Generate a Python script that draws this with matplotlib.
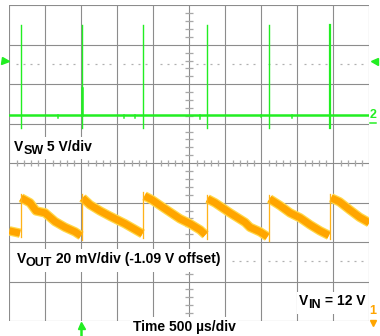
import matplotlib
matplotlib.use('Agg')
import matplotlib.pyplot as plt
from   matplotlib.patches    import Rectangle
from   matplotlib.transforms import Bbox, IdentityTransform

## ********************************************************************************************* ##
## Scope settings
## ********************************************************************************************* ##
W, H           = 380, 336
TDIV           = 500.0          # us per division
NXDIV, NYDIV   = 10, 8
SW_VDIV        = 5.0            # ch2, V per division
SW_POS         = 1.22           # ch2 ground, divisions above centre
OUT_VDIV       = 20.0           # ch1, mV per division
FONT           = 'Liberation Sans'
GREEN          = '#22ee22'
ORANGE         = '#ffa500'
GRIDC          = '#8c8c8c'

## Switch node (ch2), volts
## =========================================== ##
sw_times       = [160, 1005, 1860, 2740, 3600, 4460]
sw_peak        = [11.4, 11.4, 11.4, 11.4, 11.4, 11.4]
sw_dip         = [-1.7, -1.7, -1.7, -1.7, -1.7, -1.7]
sw_width       = [1.0, 1.0, 1.0, 1.0, 1.0, 1.6]
ring_time      = 1005
ring_peak      = 3.4
glitch_times   = [680, 1595, 1740, 2650, 3495, 3930]
glitch_v       = [-0.4, -0.4, -0.4, -0.5, -0.3, -0.4]

## Output ripple (ch1), mV from the -1.09 V offset
## =========================================== ##
out_t          = [[0, 149],
                  [163, 288, 371, 496, 635, 774, 913, 996],
                  [1017, 1121, 1260, 1399, 1607, 1850],
                  [1878, 1982, 2162, 2371, 2510, 2649, 2725],
                  [2753, 2857, 3065, 3274, 3343, 3482, 3586],
                  [3614, 3760, 3899, 4038, 4176, 4315, 4440],
                  [4469, 4587, 4726, 4865, 5000]]
out_mv         = [[-34.3, -35.5],
                  [-17.6, -20.1, -24.2, -25.2, -29.6, -32.5, -34.8, -36.8],
                  [-17.6, -21.1, -24.2, -26.9, -30.7, -35.8],
                  [-16.6, -18.6, -23.1, -28.2, -30.7, -33.8, -36.3],
                  [-18.1, -20.1, -25.2, -30.0, -32.5, -34.8, -37.3],
                  [-18.1, -21.5, -25.2, -27.7, -31.2, -34.3, -36.6],
                  [-17.6, -19.6, -23.6, -27.4, -30.2]]

trig_levels    = [2.5, -2.49]   # dotted cursor rows, divisions
marker_time    = 1000           # trigger position arrow

def sw_div(v):
    return v / SW_VDIV + SW_POS

def out_div(mv):
    return mv / OUT_VDIV

def pt(px):
    return px * 72.0 / 100.0

## ********************************************************************************************* ##
## Graticule
## ********************************************************************************************* ##
fig            = plt.figure(figsize=(W / 100, H / 100), dpi=100)
fig.patch.set_facecolor('white')
ax             = fig.add_axes([9.3 / W, 1 - 321.0 / H, 360.0 / W, 315.7 / H])
xmax           = NXDIV * TDIV
ax.set_xlim(0, xmax)
ax.set_ylim(-NYDIV / 2, NYDIV / 2)
ax.axis('off')

for i in range(NXDIV + 1):
    ax.axvline(i * TDIV, color=GRIDC, lw=0.8, zorder=1)
for j in range(NYDIV + 1):
    ax.axhline(j - NYDIV / 2, color=GRIDC, lw=0.8, zorder=1)

# minor ticks along the centre lines
ty             = [k * 0.2 - NYDIV / 2 for k in range(NYDIV * 5 + 1) if k % 5]
tx             = [k * TDIV / 5 for k in range(NXDIV * 5 + 1) if k % 5]
ax.plot([xmax / 2] * len(ty), ty, ls='none', marker='_', ms=pt(8), mew=pt(1.3), color='#a8a8a8', zorder=1)
ax.plot(tx, [0] * len(tx), ls='none', marker='|', ms=pt(6), mew=pt(1.3), color='#a8a8a8', zorder=1)

# dotted cursor rows
for lvl in trig_levels:
    ax.plot(tx, [lvl] * len(tx), ls='none', marker='_', ms=pt(2.5), mew=pt(1.2), color='#b0b0b0', zorder=1)

## ********************************************************************************************* ##
## Traces
## ********************************************************************************************* ##
# ch1 - output ripple band
for t, mv in zip(out_t, out_mv):
    y = [out_div(v) for v in mv]
    ax.plot(t, y, color='#ffd84a', lw=pt(9.5), solid_capstyle='butt', zorder=2)
    ax.plot(t, y, color=ORANGE, lw=pt(7), solid_capstyle='butt', zorder=3)
for i, ts in enumerate(sw_times):
    ax.plot([ts, ts], [out_div(out_mv[i][-1]) - 0.1, out_div(out_mv[i + 1][0]) + 0.1],
            color='#ffb31a', lw=pt(1.3), zorder=3)

# ch2 - switch node
ax.plot([0, xmax], [sw_div(0), sw_div(0)], color=GREEN, lw=pt(2.5), zorder=4)
for ts, vp, vd, lw in zip(sw_times, sw_peak, sw_dip, sw_width):
    ax.plot([ts, ts], [sw_div(vd), sw_div(vp)], color=GREEN, lw=lw, zorder=4)
ax.plot([ring_time, ring_time], [sw_div(0), sw_div(ring_peak)], color=GREEN, lw=pt(2.5), zorder=4)
for tg, vg in zip(glitch_times, glitch_v):
    ax.plot([tg, tg], [sw_div(0), sw_div(vg)], color=GREEN, lw=pt(1.5), zorder=4)

## ********************************************************************************************* ##
## Channel markers
## ********************************************************************************************* ##
ax.plot([-55], [2.6], marker='>', ms=pt(7), color=GREEN, clip_on=False, zorder=6)
ax.plot([xmax + 60], [2.6], marker='<', ms=pt(7), color=GREEN, clip_on=False, zorder=6)
ax.text(xmax + 52, sw_div(0), '2', color=GREEN, fontsize=9, fontweight='bold', family=FONT,
        ha='center', va='center', clip_on=False, zorder=6)
ax.plot([xmax + 15, xmax + 95], [1.02, 1.02], color=GREEN, lw=pt(1.5), clip_on=False, zorder=6)
ax.text(xmax + 52, -3.74, '1', color=ORANGE, fontsize=9, fontweight='bold', family=FONT,
        ha='center', va='center', clip_on=False, zorder=6)
ax.plot([xmax + 45], [-4.05], marker='v', ms=pt(6), color=ORANGE, clip_on=False, zorder=6)
ax.plot([marker_time, marker_time], [-4.12, -4.4], color=GREEN, lw=pt(2.5), clip_on=False, zorder=6)
ax.plot([marker_time], [-4.1], marker='^', ms=pt(7), color=GREEN, clip_on=False, zorder=6)

## ********************************************************************************************* ##
## Labels (white boxed, sub-scripted)
## ********************************************************************************************* ##
renderer       = fig.canvas.get_renderer()

def rich_label(x, y, parts, pad=2.5):
    boxes      = []
    for s, size, drop in parts:
        txt    = fig.text(x / W, 1 - (y + drop) / H, s, fontsize=size, fontweight='bold',
                          family=FONT, color='black', ha='left', va='baseline', zorder=8)
        bb     = txt.get_window_extent(renderer)
        boxes.append(bb)
        x      = bb.x1
    bb         = Bbox.union(boxes)
    rect       = Rectangle((bb.x0 - pad, bb.y0 - pad), bb.width + 2 * pad, bb.height + 2 * pad,
                           transform=IdentityTransform(), facecolor='white', edgecolor='none', zorder=7)
    fig.add_artist(rect)

rich_label(14.0, 150.5, [('V', 10, 0), ('SW', 9, 3.5), (' 5 V/div', 10, 0)])
rich_label(16.7, 262.7, [('V', 10, 0), ('OUT', 9, 3.5), (' 20 mV/div (-1.09 V offset)', 10, 0)])
rich_label(299.3, 305.0, [('V', 10, 0), ('IN', 9, 3.5), (' = 12 V', 10, 0)])
rich_label(132.7, 330.5, [('Time 500 \u00b5s/div', 10, 0)])

fig.savefig('out.png', dpi=100, facecolor='white')
